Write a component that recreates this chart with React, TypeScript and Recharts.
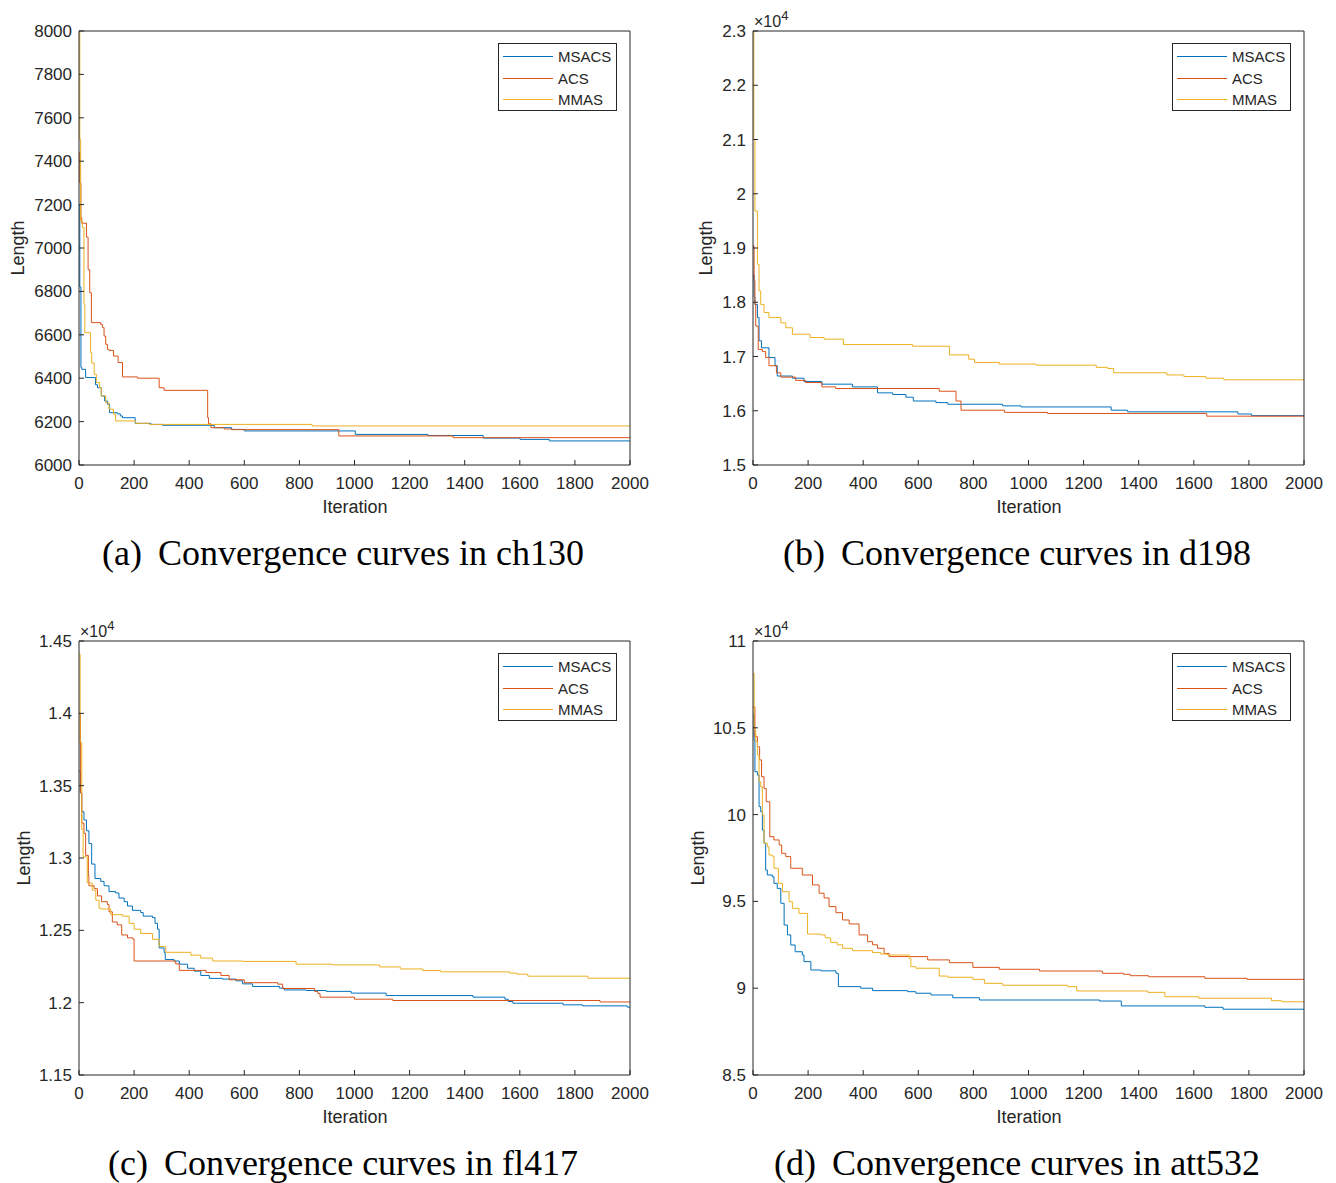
import React from 'react';
import { LineChart, Line, XAxis, YAxis } from 'recharts';

type Pt = [number, number];

// ── Colours (MATLAB defaults) ──────────────────────────────────────────────
const C = {
  msacs: '#0072BD',
  acs: '#D95319',
  mmas: '#EDB120',
  axis: '#262626',
};
const SANS = '"Liberation Sans", Arial, Helvetica, sans-serif';
const SERIF = '"Liberation Serif", "Times New Roman", serif';

const SERIES_NAMES = ['MSACS', 'ACS', 'MMAS'];
const ITER_TICKS = [0, 200, 400, 600, 800, 1000, 1200, 1400, 1600, 1800, 2000];

// ── (a) ch130 ──────────────────────────────────────────────────────────────
const chTicks = [6000, 6200, 6400, 6600, 6800, 7000, 7200, 7400, 7600, 7800, 8000];
const chMsacs: Pt[] = [
  [0, 7200], [3, 6820], [7, 6450], [10, 6441], [24, 6403], [60, 6370], [67, 6356], [81, 6318],
  [93, 6295], [103, 6280], [111, 6241], [139, 6236], [150, 6226], [158, 6218], [204, 6192],
  [261, 6187], [303, 6183], [491, 6172], [554, 6164], [600, 6157], [1003, 6141], [1267, 6136],
  [1467, 6124], [1601, 6118], [1707, 6111], [2000, 6111],
];
const chAcs: Pt[] = [
  [0, 7440], [3, 7300], [7, 7140], [10, 7114], [27, 7050], [33, 6900], [39, 6794], [45, 6656],
  [79, 6648], [85, 6633], [91, 6594], [97, 6556], [103, 6533], [109, 6528], [125, 6502],
  [142, 6472], [158, 6406], [212, 6400], [291, 6356], [309, 6344], [467, 6218], [470, 6190],
  [479, 6172], [527, 6166], [554, 6163], [943, 6134], [1358, 6126], [2000, 6126],
];
const chMmas: Pt[] = [
  [0, 8000], [3, 7500], [6, 7124], [12, 7094], [18, 6740], [21, 6610], [42, 6518], [46, 6470],
  [55, 6418], [63, 6380], [75, 6356], [81, 6318], [97, 6287], [109, 6257], [125, 6234],
  [133, 6203], [206, 6192], [255, 6187], [846, 6180], [2000, 6180],
];

// ── (b) d198 (×10^4) ───────────────────────────────────────────────────────
const dTicks = [1.5, 1.6, 1.7, 1.8, 1.9, 2, 2.1, 2.2, 2.3];
const dMsacs: Pt[] = [
  [0, 1.85], [4, 1.81], [7, 1.796], [16, 1.772], [22, 1.729], [31, 1.716], [58, 1.698],
  [80, 1.683], [88, 1.664], [143, 1.66], [185, 1.654], [250, 1.649], [361, 1.644], [452, 1.633],
  [507, 1.63], [555, 1.625], [582, 1.618], [664, 1.615], [707, 1.612], [906, 1.609],
  [973, 1.607], [1300, 1.601], [1360, 1.598], [1760, 1.594], [1810, 1.591], [2000, 1.591],
];
const dAcs: Pt[] = [
  [0, 1.904], [4, 1.84], [7, 1.796], [10, 1.756], [19, 1.713], [34, 1.709], [46, 1.698],
  [58, 1.683], [85, 1.67], [101, 1.662], [155, 1.656], [191, 1.652], [250, 1.644], [300, 1.641],
  [676, 1.636], [737, 1.618], [755, 1.601], [913, 1.597], [1069, 1.595], [1647, 1.59],
  [2000, 1.59],
];
const dMmas: Pt[] = [
  [0, 2.3], [3, 2.1], [7, 1.968], [16, 1.87], [22, 1.821], [28, 1.796], [40, 1.781], [58, 1.772],
  [101, 1.762], [119, 1.753], [143, 1.741], [207, 1.735], [258, 1.732], [328, 1.722],
  [579, 1.719], [713, 1.703], [783, 1.695], [804, 1.689], [894, 1.686], [1028, 1.684],
  [1246, 1.68], [1287, 1.678], [1309, 1.67], [1502, 1.666], [1564, 1.663], [1644, 1.66],
  [1709, 1.657], [2000, 1.657],
];

// ── (c) fl417 (×10^4) ──────────────────────────────────────────────────────
const flTicks = [1.15, 1.2, 1.25, 1.3, 1.35, 1.4, 1.45];
const flMsacs: Pt[] = [
  [0, 1.36], [5, 1.345], [10, 1.332], [18, 1.3263], [27, 1.3188], [36, 1.31], [46, 1.2958],
  [58, 1.2858], [79, 1.2838], [91, 1.2808], [109, 1.2768], [133, 1.2758], [145, 1.2723],
  [164, 1.2698], [176, 1.2668], [194, 1.2638], [224, 1.2623], [233, 1.2598], [267, 1.2588],
  [276, 1.2548], [285, 1.2508], [291, 1.2378], [309, 1.2348], [313, 1.2298], [345, 1.2288],
  [364, 1.2266], [394, 1.2238], [418, 1.2218], [442, 1.2188], [473, 1.2168], [521, 1.2163],
  [570, 1.2151], [594, 1.213], [630, 1.2112], [727, 1.2101], [745, 1.2088], [824, 1.2084],
  [897, 1.2078], [988, 1.2066], [1115, 1.2049], [1430, 1.2038], [1546, 1.2024], [1558, 1.2008],
  [1575, 1.1996], [1757, 1.1985], [1828, 1.1978], [1990, 1.1969], [2000, 1.1969],
];
const flAcs: Pt[] = [
  [0, 1.4], [5, 1.345], [10, 1.3241], [18, 1.317], [24, 1.3018], [34, 1.2878], [36, 1.2808],
  [55, 1.2788], [67, 1.2738], [82, 1.2698], [103, 1.2678], [109, 1.2628], [121, 1.2558],
  [139, 1.2538], [155, 1.2468], [176, 1.2448], [196, 1.2438], [200, 1.2288], [351, 1.2268],
  [364, 1.2223], [461, 1.2208], [515, 1.2188], [545, 1.2158], [600, 1.2138], [721, 1.2128],
  [739, 1.2098], [855, 1.2078], [867, 1.2063], [875, 1.2038], [1000, 1.2024], [1139, 1.2015],
  [1891, 1.2005], [2000, 1.2005],
];
const flMmas: Pt[] = [
  [0, 1.441], [4, 1.38], [10, 1.3198], [15, 1.3008], [30, 1.2828], [48, 1.2778], [61, 1.2708],
  [73, 1.2653], [79, 1.2648], [115, 1.2608], [158, 1.2598], [182, 1.2548], [200, 1.2508],
  [224, 1.2478], [267, 1.2438], [291, 1.2388], [315, 1.2348], [406, 1.2328], [442, 1.2308],
  [485, 1.2288], [594, 1.2285], [788, 1.2266], [921, 1.2261], [1091, 1.2247], [1166, 1.2233],
  [1248, 1.2222], [1313, 1.2213], [1564, 1.2204], [1591, 1.2197], [1629, 1.2183],
  [1847, 1.2169], [2000, 1.2169],
];

// ── (d) att532 (×10^4) ─────────────────────────────────────────────────────
const attTicks = [8.5, 9, 9.5, 10, 10.5, 11];
const attMsacs: Pt[] = [
  [0, 10.574], [4, 10.43], [7, 10.247], [16, 10.228], [22, 10.046], [28, 10.017], [34, 9.911],
  [40, 9.835], [46, 9.681], [52, 9.652], [70, 9.642], [76, 9.604], [88, 9.575], [101, 9.489],
  [113, 9.364], [125, 9.307], [137, 9.249], [153, 9.21], [179, 9.191], [185, 9.153],
  [210, 9.105], [246, 9.1], [301, 9.086], [310, 9.009], [391, 9.0], [434, 8.986], [561, 8.98],
  [591, 8.971], [646, 8.961], [725, 8.945], [822, 8.932], [1258, 8.926], [1337, 8.898],
  [1640, 8.89], [1706, 8.879], [2000, 8.879],
];
const attAcs: Pt[] = [
  [0, 10.62], [7, 10.449], [16, 10.391], [24, 10.315], [31, 10.218], [40, 10.151], [48, 10.074],
  [61, 9.873], [76, 9.854], [95, 9.825], [104, 9.777], [119, 9.758], [137, 9.691], [179, 9.652],
  [216, 9.595], [240, 9.547], [258, 9.52], [276, 9.47], [301, 9.435], [325, 9.393], [349, 9.37],
  [385, 9.307], [416, 9.268], [434, 9.25], [452, 9.23], [476, 9.2], [494, 9.182], [634, 9.163],
  [713, 9.147], [798, 9.12], [894, 9.109], [1040, 9.099], [1268, 9.086], [1345, 9.08],
  [1369, 9.072], [1436, 9.066], [1640, 9.057], [1793, 9.051], [2000, 9.051],
];
const attMmas: Pt[] = [
  [0, 10.814], [4, 10.487], [10, 10.42], [16, 10.343], [22, 10.19], [28, 10.161], [34, 9.998],
  [40, 9.835], [52, 9.815], [58, 9.767], [70, 9.76], [76, 9.691], [92, 9.604], [107, 9.556],
  [131, 9.498], [143, 9.46], [167, 9.431], [198, 9.312], [246, 9.307], [262, 9.29], [282, 9.264],
  [306, 9.25], [325, 9.23], [361, 9.216], [434, 9.205], [464, 9.197], [488, 9.191], [567, 9.172],
  [573, 9.124], [591, 9.115], [676, 9.07], [707, 9.063], [798, 9.051], [840, 9.028],
  [906, 9.017], [1142, 9.009], [1175, 8.984], [1433, 8.976], [1495, 8.951], [1618, 8.942],
  [1882, 8.928], [1919, 8.922], [2000, 8.922],
];

const toRows = (pts: Pt[]) => pts.map(([x, y]) => ({ x, y }));
const fmt = (v: number) => String(Number(v.toFixed(2)));

// chart box: plot area sits at (79, 31) inside it, 551 x 434
const CW = 668;
const CH = 520;

interface PanelProps {
  left: number;
  top: number;
  domain: [number, number];
  ticks: number[];
  series: Pt[][];
  letter: string;
  name: string;
  exp?: boolean;
  lengthX: number;
}

function Panel({ left, top, domain, ticks, series, letter, name, exp, lengthX }: PanelProps) {
  const colors = [C.msacs, C.acs, C.mmas];
  const tickStyle = { fill: C.axis, fontSize: 17, fontFamily: SANS };
  const line = { stroke: C.axis, strokeWidth: 1 };
  return (
    <div style={{ position: 'absolute', left, top, width: CW, height: 620 }}>
      <LineChart width={CW} height={CH} margin={{ top: 31, right: 38, bottom: 15, left: 19 }}>
        <XAxis
          dataKey="x"
          type="number"
          domain={[0, 2000]}
          ticks={ITER_TICKS}
          allowDataOverflow
          height={40}
          tick={tickStyle}
          tickSize={-5}
          tickMargin={17}
          axisLine={line}
          tickLine={line}
        />
        <XAxis
          xAxisId="top"
          orientation="top"
          mirror
          type="number"
          domain={[0, 2000]}
          ticks={ITER_TICKS}
          tick={false}
          tickSize={5}
          axisLine={line}
          tickLine={line}
        />
        <YAxis
          type="number"
          domain={domain}
          ticks={ticks}
          allowDataOverflow
          width={60}
          tick={tickStyle}
          tickFormatter={fmt}
          tickSize={-5}
          tickMargin={12}
          axisLine={line}
          tickLine={line}
        />
        <YAxis
          yAxisId="right"
          orientation="right"
          mirror
          type="number"
          domain={domain}
          ticks={ticks}
          tick={false}
          tickSize={5}
          axisLine={line}
          tickLine={line}
        />
        {series.map((s, i) => (
          <Line
            key={SERIES_NAMES[i]}
            data={toRows(s)}
            dataKey="y"
            name={SERIES_NAMES[i]}
            type="stepAfter"
            stroke={colors[i]}
            strokeWidth={1}
            dot={false}
            activeDot={false}
            isAnimationActive={false}
          />
        ))}
      </LineChart>

      {/* legend box, top-right of plot */}
      <div
        style={{
          position: 'absolute',
          left: 498,
          top: 43,
          width: 117,
          height: 66,
          border: `1px solid ${C.axis}`,
          background: '#fff',
          fontFamily: SANS,
          fontSize: 15,
          color: C.axis,
        }}
      >
        {SERIES_NAMES.map((n, i) => (
          <div key={n} style={{ position: 'absolute', left: 0, top: 3 + i * 21.5, height: 20, width: 117 }}>
            <div style={{ position: 'absolute', left: 4, top: 9, width: 50, height: 1, background: colors[i] }} />
            <span style={{ position: 'absolute', left: 59, top: 0, lineHeight: '20px' }}>{n}</span>
          </div>
        ))}
      </div>

      <svg width={CW} height={620} style={{ position: 'absolute', left: 0, top: 0, pointerEvents: 'none' }}>
        {exp && (
          <text x={80} y={27} fontFamily={SANS} fontSize={16} fill={C.axis}>
            ×10
            <tspan dy={-7} fontSize={13}>4</tspan>
          </text>
        )}
        <text x={355} y={513} textAnchor="middle" fontFamily={SANS} fontSize={18} fill={C.axis}>
          Iteration
        </text>
        <text
          transform={`translate(${lengthX},248) rotate(-90)`}
          textAnchor="middle"
          fontFamily={SANS}
          fontSize={18}
          fill={C.axis}
        >
          Length
        </text>
        <text x={343} y={565} textAnchor="middle" fontFamily={SERIF} fontSize={36} fill="#000">
          ({letter})
          <tspan dx={16}>Convergence curves in {name}</tspan>
        </text>
      </svg>
    </div>
  );
}

export default function App() {
  return (
    <div style={{ position: 'absolute', left: 0, top: 0, width: 1336, height: 1183, background: '#fff' }}>
      <Panel left={0} top={0} domain={[6000, 8000]} ticks={chTicks} series={[chMsacs, chAcs, chMmas]} letter="a" name="ch130" lengthX={24} />
      <Panel left={674} top={0} domain={[1.5, 2.3]} ticks={dTicks} series={[dMsacs, dAcs, dMmas]} letter="b" name="d198" exp lengthX={38} />
      <Panel left={0} top={610} domain={[1.15, 1.45]} ticks={flTicks} series={[flMsacs, flAcs, flMmas]} letter="c" name="fl417" exp lengthX={30} />
      <Panel left={674} top={610} domain={[8.5, 11]} ticks={attTicks} series={[attMsacs, attAcs, attMmas]} letter="d" name="att532" exp lengthX={30} />
    </div>
  );
}
